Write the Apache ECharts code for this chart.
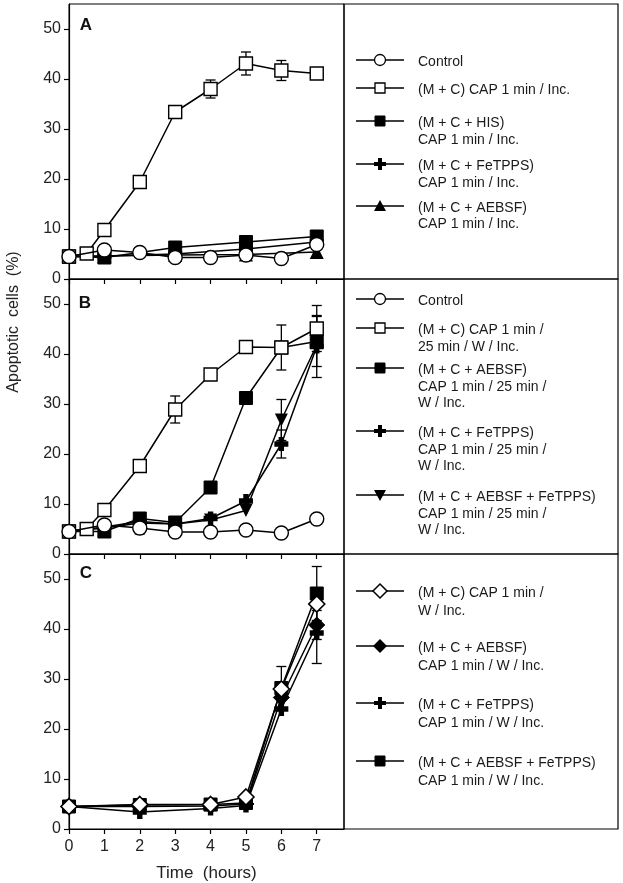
<!DOCTYPE html>
<html>
<head>
<meta charset="utf-8">
<script src="https://cdn.jsdelivr.net/npm/echarts@6/dist/echarts.min.js"></script>
<style>
html,body{margin:0;padding:0;background:#fff;}
#chart{width:623px;height:883px;}
</style>
</head>
<body>
<div id="chart"></div>
<script>
// ---------- data ----------
const xTicks = [0, 1, 2, 3, 4, 5, 6, 7];
const yTicks = [0, 10, 20, 30, 40, 50];
const panelLabels = ['A', 'B', 'C'];
const xAxisTitle = 'Time  (hours)';
const yAxisTitle = 'Apoptotic  cells  (%)';

// Panel A
const timeA_all = [0, 1, 2, 3, 4, 5, 6, 7];
const timeA_sq = [0, 0.5, 1, 2, 3, 4, 5, 6, 7];
const timeA_odd = [0, 1, 3, 5, 7];
const A_control = [4.5, 5.8, 5.3, 4.3, 4.3, 4.8, 4.1, 6.9];
const A_cap = [4.5, 5.1, 9.8, 19.4, 33.4, 38.0, 43.1, 41.7, 41.1];
const A_his = [4.5, 4.3, 6.3, 7.4, 8.5];
const A_fetpps = [4.5, 4.6, 5.0, 6.0, 7.4];
const A_aebsf = [4.5, 4.6, 4.8, 4.9, 5.4];
const A_err_x = [4, 5, 6];
const A_err_mean = [38.0, 43.1, 41.7];
const A_err_sd = [1.8, 2.3, 2.0];
const A_names = ['Control', '(M + C) CAP 1 min / Inc.', '(M + C + HIS)\nCAP 1 min / Inc.', '(M + C + FeTPPS)\nCAP 1 min / Inc.', '(M + C + AEBSF)\nCAP 1 min / Inc.'];

// Panel B
const timeB_all = [0, 1, 2, 3, 4, 5, 6, 7];
const timeB_sq = [0, 0.5, 1, 2, 3, 4, 5, 6, 7];
const B_control = [4.5, 5.8, 5.2, 4.4, 4.4, 4.8, 4.2, 7.0];
const B_cap = [4.5, 5.0, 8.8, 17.6, 28.9, 35.9, 41.4, 41.3, 45.1];
const B_aebsf = [4.5, 4.5, 7.1, 6.3, 13.3, 31.2, 41.3, 42.5];
const B_fetpps = [4.5, 5.4, 6.5, 6.0, 7.1, 10.6, 22.0, 41.5];
const B_both = [4.5, 5.2, 6.2, 6.0, 6.8, 8.7, 26.8, 41.8];
const B_err_x = [2, 3, 6, 7, 7, 6, 7, 6];
const B_err_mean = [5.2, 28.9, 41.3, 45.1, 42.5, 22.0, 41.5, 26.8];
const B_err_sd = [1.2, 2.7, 4.5, 4.6, 5.0, 2.8, 6.2, 4.1];
const B_names = ['Control', '(M + C) CAP 1 min /\n25 min / W / Inc.', '(M + C + AEBSF)\nCAP 1 min / 25 min /\nW / Inc.', '(M + C + FeTPPS)\nCAP 1 min / 25 min /\nW / Inc.', '(M + C + AEBSF + FeTPPS)\nCAP 1 min / 25 min /\nW / Inc.'];

// Panel C
const timeC = [0, 2, 4, 5, 6, 7];
const C_cap = [4.5, 4.9, 4.9, 6.4, 28.0, 45.0];
const C_aebsf = [4.5, 4.5, 4.6, 5.0, 26.3, 40.8];
const C_fetpps = [4.5, 3.4, 4.1, 4.7, 24.0, 39.2];
const C_both = [4.5, 4.8, 4.9, 5.2, 28.2, 47.1];
const C_err_x = [6, 7, 7, 7];
const C_err_mean = [28.2, 47.1, 39.2, 40.8];
const C_err_sd = [4.3, 5.4, 6.1, 2.9];
const C_names = ['(M + C) CAP 1 min /\nW / Inc.', '(M + C + AEBSF)\nCAP 1 min / W / Inc.', '(M + C + FeTPPS)\nCAP 1 min / W / Inc.', '(M + C + AEBSF + FeTPPS)\nCAP 1 min / W / Inc.'];

// ---------- helpers ----------
const FONT = '"Liberation Sans", Arial, Helvetica, sans-serif';
const zip = (xs, ys) => xs.map((x, i) => [x, ys[i]]);
const errData = (xs, m, s) => xs.map((x, i) => [x, m[i] - s[i], m[i] + s[i]]);

const PLUS = 'path://M4,0 H9 V4 H13 V9 H9 V13 H4 V9 H0 V4 H4 Z';
const TRI_DOWN = 'path://M0,0 L12,0 L6,11 Z';
const SYM = {
  openCircle: {symbol: 'circle', symbolSize: 14, itemStyle: {color: '#fff', borderColor: '#000', borderWidth: 1.4}},
  openSquare: {symbol: 'rect', symbolSize: 13, itemStyle: {color: '#fff', borderColor: '#000', borderWidth: 1.4}},
  fillSquare: {symbol: 'rect', symbolSize: 13, itemStyle: {color: '#000', borderColor: '#000', borderWidth: 1}},
  plus: {symbol: PLUS, symbolSize: 14, itemStyle: {color: '#000', borderColor: '#000', borderWidth: 0}},
  triUp: {symbol: 'triangle', symbolSize: 14, itemStyle: {color: '#000', borderColor: '#000', borderWidth: 0}},
  triDown: {symbol: TRI_DOWN, symbolSize: [13, 13], itemStyle: {color: '#000', borderColor: '#000', borderWidth: 0}},
  openDiamond: {symbol: 'diamond', symbolSize: 16, itemStyle: {color: '#fff', borderColor: '#000', borderWidth: 1.6}},
  fillDiamond: {symbol: 'diamond', symbolSize: 16, itemStyle: {color: '#000', borderColor: '#000', borderWidth: 1}}
};

function lineSeries(gi, name, data, sym, z) {
  return Object.assign({
    type: 'line', name: name, xAxisIndex: gi, yAxisIndex: gi, data: data,
    showAllSymbol: true, animation: false, z: z || 3,
    lineStyle: {color: '#000', width: 1.5}, emphasis: {disabled: true}
  }, JSON.parse(JSON.stringify(sym)));
}
function errSeries(gi, data) {
  return {
    type: 'custom', xAxisIndex: gi, yAxisIndex: gi, data: data, z: 2, animation: false,
    renderItem: function (params, api) {
      const x = api.value(0);
      const p1 = api.coord([x, api.value(1)]);
      const p2 = api.coord([x, api.value(2)]);
      const w = 5;
      const st = {stroke: '#000', lineWidth: 1.3};
      return {type: 'group', children: [
        {type: 'line', shape: {x1: p1[0], y1: p1[1], x2: p2[0], y2: p2[1]}, style: st},
        {type: 'line', shape: {x1: p1[0] - w, y1: p1[1], x2: p1[0] + w, y2: p1[1]}, style: st},
        {type: 'line', shape: {x1: p2[0] - w, y1: p2[1], x2: p2[0] + w, y2: p2[1]}, style: st}
      ]};
    }
  };
}

// ---------- layout ----------
const L = 69, W = 275, H = 275;
const tops = [4, 279, 554];
const grids = tops.map(t => ({left: L, top: t, width: W, height: H, show: true, borderColor: '#000', borderWidth: 1, backgroundColor: 'transparent'}));
const xAxes = tops.map((t, i) => ({
  type: 'value', gridIndex: i, min: 0, max: 7.77,
  axisLine: {show: true, lineStyle: {color: '#000', width: 1.2}},
  axisTick: {show: true, customValues: xTicks, length: 5, lineStyle: {color: '#000', width: 1.2}},
  axisLabel: {show: i === 2, customValues: xTicks, fontSize: 16, color: '#222', fontFamily: FONT, margin: 10},
  splitLine: {show: false},
  name: i === 2 ? xAxisTitle : '', nameLocation: 'middle', nameGap: 36,
  nameTextStyle: {fontSize: 17, color: '#222', fontFamily: FONT}
}));
const yAxes = tops.map((t, i) => ({
  type: 'value', gridIndex: i, min: 0, max: 55,
  axisLine: {show: true, lineStyle: {color: '#000', width: 1.2}},
  axisTick: {show: true, customValues: yTicks, length: 5, lineStyle: {color: '#000', width: 1.2}},
  axisLabel: {show: true, customValues: yTicks, fontSize: 16, color: '#222', fontFamily: FONT, margin: 8},
  splitLine: {show: false}
}));

const series = [
  // A
  errSeries(0, errData(A_err_x, A_err_mean, A_err_sd)),
  lineSeries(0, A_names[4], zip(timeA_odd, A_aebsf), SYM.triUp, 3),
  lineSeries(0, A_names[3], zip(timeA_odd, A_fetpps), SYM.plus, 3),
  lineSeries(0, A_names[2], zip(timeA_odd, A_his), SYM.fillSquare, 4),
  lineSeries(0, A_names[1], zip(timeA_sq, A_cap), SYM.openSquare, 5),
  lineSeries(0, A_names[0], zip(timeA_all, A_control), SYM.openCircle, 6),
  // B
  errSeries(1, errData(B_err_x, B_err_mean, B_err_sd)),
  lineSeries(1, B_names[4], zip(timeB_all, B_both), SYM.triDown, 3),
  lineSeries(1, B_names[3], zip(timeB_all, B_fetpps), SYM.plus, 3),
  lineSeries(1, B_names[2], zip(timeB_all, B_aebsf), SYM.fillSquare, 4),
  lineSeries(1, B_names[1], zip(timeB_sq, B_cap), SYM.openSquare, 5),
  lineSeries(1, B_names[0], zip(timeB_all, B_control), SYM.openCircle, 6),
  // C
  errSeries(2, errData(C_err_x, C_err_mean, C_err_sd)),
  lineSeries(2, C_names[2], zip(timeC, C_fetpps), SYM.plus, 3),
  lineSeries(2, C_names[1], zip(timeC, C_aebsf), SYM.fillDiamond, 4),
  lineSeries(2, C_names[3], zip(timeC, C_both), SYM.fillSquare, 4),
  lineSeries(2, C_names[0], zip(timeC, C_cap), SYM.openDiamond, 6)
];

// ---------- legend drawn as graphics ----------
function legendSymbol(kind, cx, cy) {
  const blk = {fill: '#000', stroke: '#000', lineWidth: 1};
  const wht = {fill: '#fff', stroke: '#000', lineWidth: 1.3};
  const s = 5;
  switch (kind) {
    case 'openCircle': return {type: 'circle', shape: {cx: cx, cy: cy, r: 5.5}, style: wht};
    case 'openSquare': return {type: 'rect', shape: {x: cx - s, y: cy - s, width: 2 * s, height: 2 * s}, style: wht};
    case 'fillSquare': return {type: 'rect', shape: {x: cx - s, y: cy - s, width: 2 * s, height: 2 * s}, style: blk};
    case 'plus': return {type: 'polygon', shape: {points: [[cx - 2, cy - 6], [cx + 2, cy - 6], [cx + 2, cy - 2], [cx + 6, cy - 2], [cx + 6, cy + 2], [cx + 2, cy + 2], [cx + 2, cy + 6], [cx - 2, cy + 6], [cx - 2, cy + 2], [cx - 6, cy + 2], [cx - 6, cy - 2], [cx - 2, cy - 2]]}, style: {fill: '#000'}};
    case 'triUp': return {type: 'polygon', shape: {points: [[cx, cy - 6], [cx + 6, cy + 5], [cx - 6, cy + 5]]}, style: {fill: '#000'}};
    case 'triDown': return {type: 'polygon', shape: {points: [[cx - 6, cy - 5], [cx + 6, cy - 5], [cx, cy + 6]]}, style: {fill: '#000'}};
    case 'openDiamond': return {type: 'polygon', shape: {points: [[cx, cy - 7], [cx + 7, cy], [cx, cy + 7], [cx - 7, cy]]}, style: {fill: '#fff', stroke: '#000', lineWidth: 1.5}};
    case 'fillDiamond': return {type: 'polygon', shape: {points: [[cx, cy - 7], [cx + 7, cy], [cx, cy + 7], [cx - 7, cy]]}, style: {fill: '#000'}};
  }
}
const legendItems = [
  // [name, symbol kind, first line y, line height]
  [A_names[0], 'openCircle', 62, 17],
  [A_names[1], 'openSquare', 90, 17],
  [A_names[2], 'fillSquare', 123, 17],
  [A_names[3], 'plus', 166, 17],
  [A_names[4], 'triUp', 208, 16],
  [B_names[0], 'openCircle', 301, 17],
  [B_names[1], 'openSquare', 330, 17],
  [B_names[2], 'fillSquare', 370, 16.7],
  [B_names[3], 'plus', 433, 16.7],
  [B_names[4], 'triDown', 497, 16.7],
  [C_names[0], 'openDiamond', 593, 18.5],
  [C_names[1], 'fillDiamond', 648, 18],
  [C_names[2], 'plus', 705, 18],
  [C_names[3], 'fillSquare', 763, 18.5]
];
const graphics = [];
// legend boxes
tops.forEach(t => graphics.push({type: 'rect', shape: {x: 344, y: t, width: 274, height: H}, style: {fill: 'none', stroke: '#000', lineWidth: 1.2}, silent: true}));
legendItems.forEach(it => {
  const [name, kind, y, lh] = it;
  const sy = y - 2;
  graphics.push({type: 'line', shape: {x1: 356, y1: sy, x2: 404, y2: sy}, style: {stroke: '#000', lineWidth: 1.4}, silent: true});
  graphics.push(Object.assign(legendSymbol(kind, 380, sy), {silent: true}));
  name.split('\n').forEach((ln, k) => {
    graphics.push({type: 'text', x: 418, y: y + k * lh, silent: true,
      style: {text: ln, fill: '#1a1a1a', font: '14px ' + FONT, textAlign: 'left', textVerticalAlign: 'middle'}});
  });
});
// panel letters
[[86, 25], [85, 303], [86, 573]].forEach((p, i) => graphics.push({type: 'text', x: p[0], y: p[1], silent: true,
  style: {text: panelLabels[i], fill: '#111', font: 'bold 17px ' + FONT, textAlign: 'center', textVerticalAlign: 'middle'}}));
// y axis title
graphics.push({type: 'text', x: 14, y: 322, rotation: Math.PI / 2, silent: true,
  style: {text: yAxisTitle, fill: '#222', font: '16px ' + FONT, textAlign: 'center', textVerticalAlign: 'middle'}});

const chart = echarts.init(document.getElementById('chart'), null, {renderer: 'canvas'});
chart.setOption({
  backgroundColor: '#fff',
  animation: false,
  grid: grids,
  xAxis: xAxes,
  yAxis: yAxes,
  series: series,
  graphic: graphics
});
</script>
</body>
</html>
